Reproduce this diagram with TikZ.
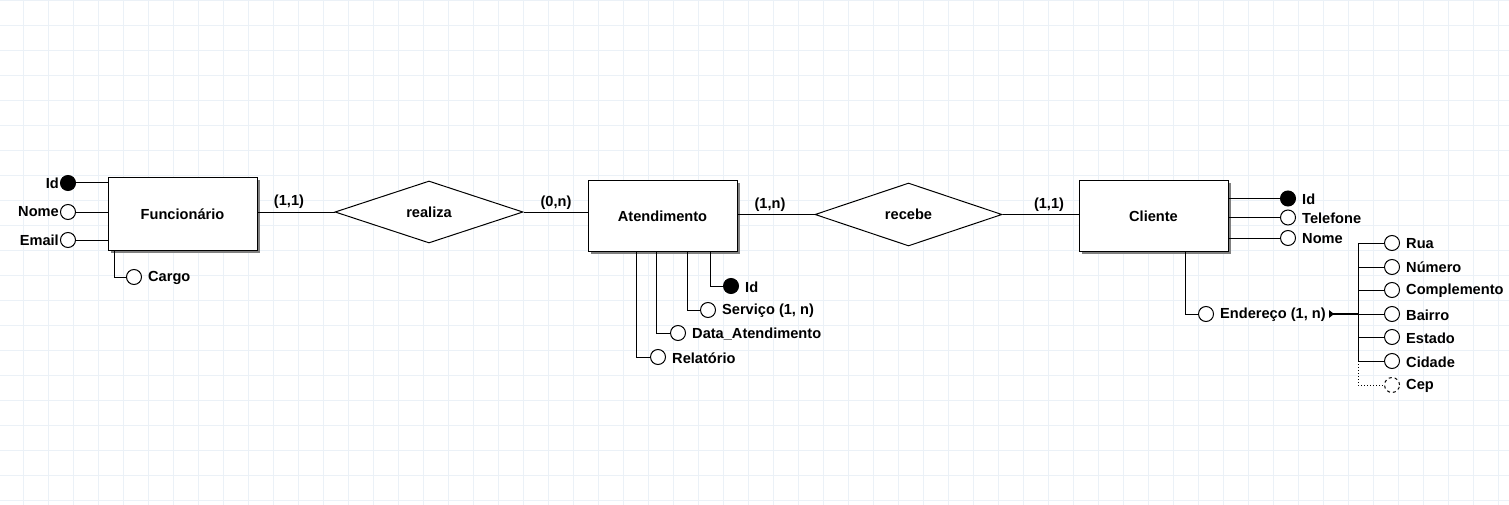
\documentclass[tikz,border=0pt]{standalone}
\usepackage{fontspec}
\setmainfont{Liberation Sans}
\usetikzlibrary{shapes.geometric,shadows}
\definecolor{gridc}{RGB}{235,241,247}
\begin{document}
\begin{tikzpicture}[x=1pt,y=-1pt,
 every node/.style={font=\fontsize{14.6}{16}\selectfont\bfseries},
 ent/.style={draw, fill=white, line width=1pt, minimum width=149pt, minimum height=70pt, inner sep=0pt,
   general shadow={fill=black!50, shadow xshift=2.5pt, shadow yshift=-2.5pt}},
 rel/.style={draw, diamond, fill=white, line width=1pt, inner sep=0pt, minimum width=188pt, minimum height=62pt},
 att/.style={draw, circle, fill=white, line width=1pt, minimum size=15pt, inner sep=0pt},
 keyatt/.style={att, fill=black},
 optatt/.style={att, dashed},
 lbl/.style={inner sep=0pt, anchor=west},
 lbll/.style={inner sep=0pt, anchor=east},
 conn/.style={line width=1pt},
 card/.style={inner sep=0pt}
]
\useasboundingbox (0,0) rectangle (1509,505);
\fill[white] (0,0) rectangle (1509,505);
\foreach \i in {0,...,59} \draw[gridc, line width=1pt] ({23.3+25*\i},0) -- ({23.3+25*\i},505);
\foreach \j in {0,...,20} \draw[gridc, line width=1pt] (0,{0.5+25*\j}) -- (1509,{0.5+25*\j});

% entities and relationships
\node[ent, minimum height=72pt] (fun) at (182.5,214) {Funcionário};
\node[ent] (ate) at (662.5,216) {Atendimento};
\node[ent] (cli) at (1153.5,216) {Cliente};
\node[rel] (realiza) at (429,212) {realiza};
\node[rel, minimum width=187pt, minimum height=63pt] (recebe) at (908.5,214.5) {recebe};

\draw[conn] (realiza.west -| fun.east) -- (realiza.west);
\draw[conn] (realiza.east) -- (realiza.east -| ate.west);
\draw[conn] (recebe.west -| ate.east) -- (recebe.west);
\draw[conn] (recebe.east) -- (recebe.east -| cli.west);

\node[card] (c1) at (289,202) {(1,1)};
\node[card] (c2) at (556,203) {(0,n)};
\node[card] (c3) at (770,205) {(1,n)};
\node[card] (c4) at (1049,205) {(1,1)};

% Funcionario attributes
\node[keyatt] (fid) at (68,183) {};
\node[att] (fnome) at (68,212) {};
\node[att] (femail) at (68,240) {};
\node[lbll] (fidl) at (59,183) {Id};
\node[lbll] (fnomel) at (59,212) {Nome};
\node[lbll] (femaill) at (59,240) {Email};
\draw[conn] (fid.east) -- (fid.east -| fun.west);
\draw[conn] (fnome.east) -- (fnome.east -| fun.west);
\draw[conn] (femail.east) -- (femail.east -| fun.west);
\node[att] (cargo) at (134,277) {};
\node[lbl] (cargol) at (148,278) {Cargo};
\draw[conn] ([xshift=7pt]fun.south west) |- (cargo.west);

% Atendimento attributes
\node[keyatt] (aid) at (731,286) {};
\node[att] (aserv) at (708,310) {};
\node[att] (adata) at (678,333) {};
\node[att] (arel) at (658,357) {};
\node[lbl] (aidl) at (745,287) {Id};
\node[lbl] (aservl) at (722,311) {Serviço (1, n)};
\node[lbl] (adatal) at (692,334) {Data\_Atendimento};
\node[lbl] (arell) at (672,358) {Relatório};
\draw[conn] ([xshift=123pt]ate.south west) |- (aid.west);
\draw[conn] ([xshift=100pt]ate.south west) |- (aserv.west);
\draw[conn] ([xshift=69pt]ate.south west) |- (adata.west);
\draw[conn] ([xshift=49pt]ate.south west) |- (arel.west);

% Cliente attributes
\node[keyatt] (cid) at (1288,198.5) {};
\node[att] (ctel) at (1288,217.5) {};
\node[att] (cnome) at (1288,238) {};
\node[lbl] (cidl) at (1302,199) {Id};
\node[lbl] (ctell) at (1302,218) {Telefone};
\node[lbl] (cnomel) at (1302,238.5) {Nome};
\draw[conn] (cid.west -| cli.east) -- (cid.west);
\draw[conn] (ctel.west -| cli.east) -- (ctel.west);
\draw[conn] (cnome.west -| cli.east) -- (cnome.west);

\node[att] (cend) at (1206,314) {};
\node[lbl] (cendl) at (1220,315) {Endereço (1, n)};
\draw[conn] ([xshift=107pt]cli.south west) |- (cend.west);
\coordinate (mk) at (1331,314);
\coordinate (bus) at (1358,314);
\fill (1329,310) -- (1334,314) -- (1329,318) -- cycle;
\draw[line width=2pt] (mk) -- (bus);

\node[att] (rua) at (1392,243) {};
\node[att] (num) at (1392,267) {};
\node[att] (comp) at (1392,290) {};
\node[att] (bai) at (1392,314) {};
\node[att] (est) at (1392,337) {};
\node[att] (cid2) at (1392,361) {};
\node[optatt] (cep) at (1392,385) {};
\node[lbl] (rual) at (1406,244) {Rua};
\node[lbl] (numl) at (1406,267) {Número};
\node[lbl] (compl) at (1406,291) {Complemento};
\node[lbl] (bail) at (1406,315) {Bairro};
\node[lbl] (estl) at (1406,338) {Estado};
\node[lbl] (cid2l) at (1406,362) {Cidade};
\node[lbl] (cepl) at (1406,386) {Cep};
\draw[conn] (rua.west -| bus) -- (cid2.west -| bus);
\foreach \n in {rua,num,comp,bai,est,cid2} \draw[conn] (\n.west -| bus) -- (\n.west);
\draw[conn, dotted] (cid2.west -| bus) |- (cep.west);
\end{tikzpicture}
\end{document}
